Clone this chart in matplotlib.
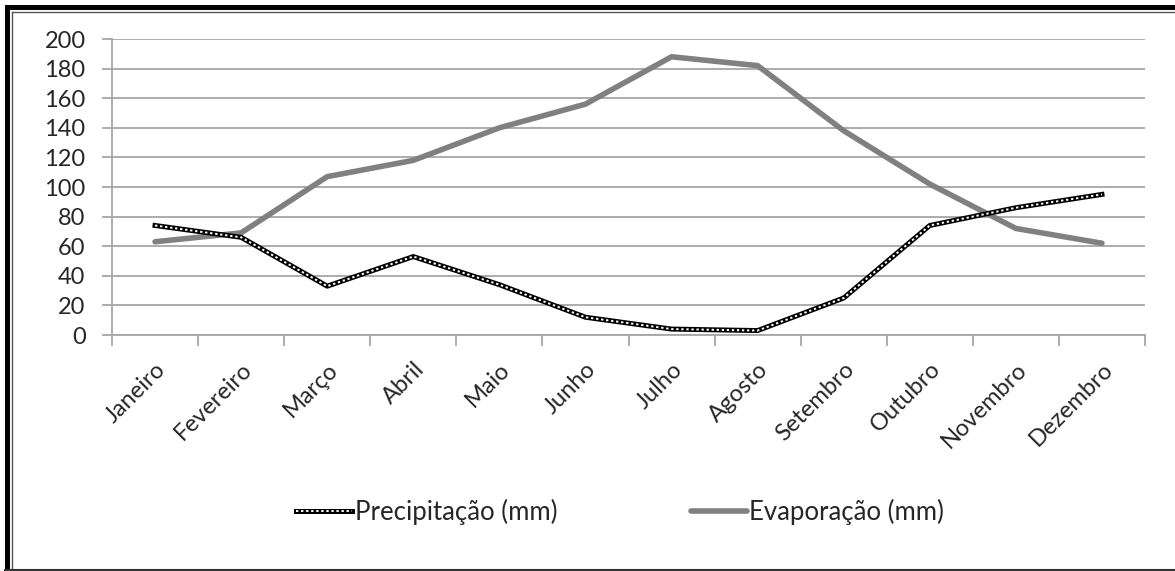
import matplotlib
matplotlib.use("Agg")
import matplotlib.pyplot as plt
from matplotlib.lines import Line2D
from matplotlib.legend_handler import HandlerTuple
from matplotlib.patches import Rectangle

plt.rcParams['font.family'] = ['Lato', 'DejaVu Sans']

meses = ["Janeiro", "Fevereiro", "Março", "Abril", "Maio", "Junho",
         "Julho", "Agosto", "Setembro", "Outubro", "Novembro", "Dezembro"]
precipitacao = [74, 66, 33, 53, 34, 12, 4, 3, 25, 74, 86, 95]
evaporacao = [63, 69, 107, 118, 140, 156, 188, 182, 138, 102, 72, 62]
yticks = list(range(0, 201, 20))

grid_c = '#a6a6a6'
text_c = '#262626'

fig = plt.figure(figsize=(11.75, 5.71), dpi=100)
ax = fig.add_axes([112/1175, 1 - 335/571, (1145 - 112)/1175, (335 - 39)/571])

x = list(range(len(meses)))
evap_line, = ax.plot(x, evaporacao, color='#808080', lw=4, solid_capstyle='round',
                     solid_joinstyle='round', zorder=3)
p_black, = ax.plot(x, precipitacao, color='black', lw=3.6, zorder=4,
                   solid_joinstyle='round')
p_white, = ax.plot(x, precipitacao, color='white', lw=1.4, ls=(0, (1.2, 1.4)), zorder=5)

ax.set_xlim(-0.5, len(meses) - 0.5)
ax.set_ylim(0, 200)
ax.set_yticks(yticks)
ax.yaxis.grid(True, color=grid_c, lw=1.3)
ax.set_axisbelow(True)

ax.set_xticks(x)
ax.set_xticklabels(meses, rotation=45, ha='right', rotation_mode='anchor')
ax.set_xticks([i - 0.5 for i in range(len(meses) + 1)], minor=True)
ax.tick_params(axis='x', which='major', length=0, pad=17, labelsize=17, labelcolor=text_c)
ax.tick_params(axis='x', which='minor', length=8, color=grid_c, width=1.3)
ax.tick_params(axis='y', length=7, color=grid_c, width=1.3, labelsize=17,
               labelcolor=text_c, pad=12)

for s in ['top', 'right']:
    ax.spines[s].set_visible(False)
for s in ['left', 'bottom']:
    ax.spines[s].set_color(grid_c)
    ax.spines[s].set_linewidth(1.3)

leg = fig.legend([(p_black, p_white), evap_line],
                 ["Precipitação (mm)", "Evaporação (mm)"],
                 handler_map={tuple: HandlerTuple(ndivide=1)},
                 loc='center', bbox_to_anchor=(620/1175, 1 - 512/571), ncol=2,
                 frameon=False, fontsize=18.5, handlelength=2.2, handletextpad=0.08,
                 columnspacing=5.2)
for t in leg.get_texts():
    t.set_color(text_c)

# outer frame
fig.patches.append(Rectangle((5/1175, 0), 5/1175, 1 - 5/571, transform=fig.transFigure,
                             color='black', lw=0))
fig.patches.append(Rectangle((5/1175, 1 - 10/571), 1, 5/571, transform=fig.transFigure,
                             color='black', lw=0))
fig.add_artist(Line2D([12/1175, 12/1175], [0, 1 - 12/571], transform=fig.transFigure,
                      color='#555555', lw=1))
fig.add_artist(Line2D([12/1175, 1], [1 - 12/571, 1 - 12/571], transform=fig.transFigure,
                      color='#555555', lw=1))
fig.add_artist(Line2D([5/1175, 1], [1.5/571, 1.5/571], transform=fig.transFigure,
                      color='#333333', lw=1.5))

fig.savefig("out.png", dpi=100)
